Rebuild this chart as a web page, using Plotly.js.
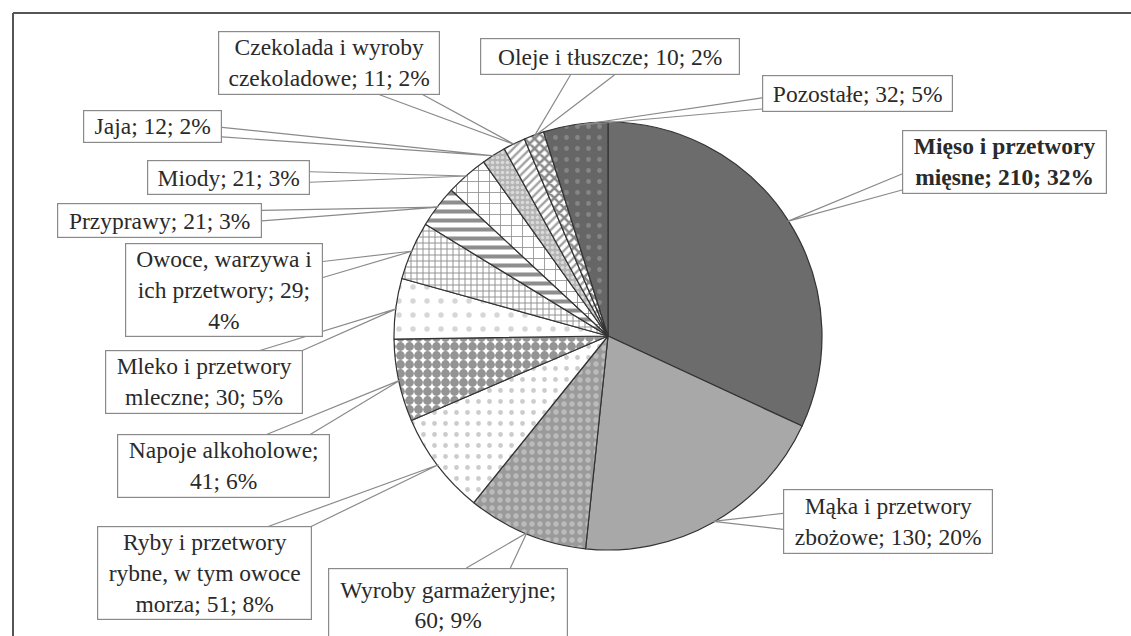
<!DOCTYPE html>
<html>
<head>
<meta charset="utf-8">
<script src="https://cdn.plot.ly/plotly-3.0.1.min.js"></script>
<style>
  html, body { margin: 0; padding: 0; background: #ffffff; overflow: hidden; }
  #chart { width: 1131px; height: 636px; }
</style>
</head>
<body>
<div id="chart"></div>
<script>
// ---- data ----
const categories = [
  'Mięso i przetwory mięsne',
  'Mąka i przetwory zbożowe',
  'Wyroby garmażeryjne',
  'Ryby i przetwory rybne, w tym owoce morza',
  'Napoje alkoholowe',
  'Mleko i przetwory mleczne',
  'Owoce, warzywa i ich przetwory',
  'Przyprawy',
  'Miody',
  'Jaja',
  'Czekolada i wyroby czekoladowe',
  'Oleje i tłuszcze',
  'Pozostałe'
];
const values = [210, 130, 60, 51, 41, 30, 29, 21, 21, 12, 11, 10, 32];
// line breaks after word n of each label text
const lineBreaks = [[3], [3], [2], [3, 7], [2], [3], [3, 6], [], [], [], [3], [], []];

// ---- styles ----
const sliceColors = ['#6c6c6c', '#a8a8a8', '#9a9a9a', '#ffffff', '#ffffff', '#ffffff', '#ffffff',
                     '#ffffff', '#ffffff', '#b4b4b4', '#ffffff', '#ffffff', '#666666'];
const patShapes = ['', '', '.', '.', '.', '.', '+', '-', '+', '.', '/', 'x', '.'];
const patFg = ['#000', '#000', '#dcdcdc', '#9a9a9a', '#2a2a2a', '#b0b0b0', '#222222',
               '#1e1e1e', '#222222', '#ffffff', '#444444', '#111111', '#a4a4a4'];
const patSize = [8, 8, 8, 11, 9, 14, 6, 9, 11, 5, 6, 7, 11];
const patSolid = [0.3, 0.3, 0.35, 0.15, 0.75, 0.12, 0.3, 0.45, 0.15, 0.4, 0.4, 0.6, 0.15];

// label boxes in pixels [x0, y0, x1, y1]
const boxes = [
  [902, 130, 1107, 193],
  [783, 489, 993, 554],
  [328, 568, 568, 642],
  [97, 528, 312, 618],
  [117, 435, 330, 497],
  [105, 352, 303, 413],
  [125, 245, 323, 335],
  [57, 203, 262, 238],
  [147, 160, 310, 195],
  [83, 110, 222, 142],
  [218, 32, 440, 94],
  [480, 38, 740, 75],
  [762, 75, 953, 112]
];

const W = 1131, H = 636;
const CX = 608, CY = 336, R = 214;
const FS = 23.5;
const px = x => x / W;
const py = y => 1 - y / H;

const total = values.reduce((a, b) => a + b, 0);

function labelText(i) {
  const pct = Math.round(values[i] / total * 100);
  const full = categories[i] + '; ' + values[i] + '; ' + pct + '%';
  const words = full.split(' ');
  let out = '';
  words.forEach((w, k) => {
    out += w;
    if (k < words.length - 1) out += lineBreaks[i].includes(k + 1) ? '<br>' : ' ';
  });
  return i === 0 ? '<b>' + out + '</b>' : out;
}

const annotations = [];
const shapes = [];
let cum = 0;
values.forEach((v, i) => {
  const a = (cum + v / 2) / total * 2 * Math.PI;
  cum += v;
  const tx = CX + (R - 1) * Math.sin(a);
  const ty = CY - (R - 1) * Math.cos(a);
  const [x0, y0, x1, y1] = boxes[i];
  const bx = (x0 + x1) / 2, by = (y0 + y1) / 2;
  const dx = tx - bx, dy = ty - by;
  const hw = (x1 - x0) / 2, hh = (y1 - y0) / 2;
  const sx = dx !== 0 ? hw / Math.abs(dx) : Infinity;
  const sy = dy !== 0 ? hh / Math.abs(dy) : Infinity;
  let b1, b2;
  if (sy < sx) {
    const ix = bx + dx * sy, iy = by + dy * sy;
    const w = Math.min(22, hw * 0.3);
    const c = Math.max(x0 + w + 4, Math.min(x1 - w - 4, ix));
    b1 = [c - w, iy]; b2 = [c + w, iy];
  } else {
    const ix = bx + dx * sx, iy = by + dy * sx;
    const w = Math.min(8, hh * 0.3);
    const c = Math.max(y0 + w + 3, Math.min(y1 - w - 3, iy));
    b1 = [ix, c - w]; b2 = [ix, c + w];
  }
  shapes.push({
    type: 'path', xref: 'paper', yref: 'paper', layer: 'above',
    path: 'M' + px(b1[0]) + ',' + py(b1[1]) + ' L' + px(tx) + ',' + py(ty) + ' L' + px(b2[0]) + ',' + py(b2[1]),
    line: { color: '#8a8a8a', width: 1.2 }
  });
  const nLines = lineBreaks[i].length + 1;
  const needH = (nLines - 1) * 1.3 * FS + 1.3 * FS;
  annotations.push({
    xref: 'paper', yref: 'paper', x: px(bx), y: py(by),
    xanchor: 'center', yanchor: 'middle',
    text: labelText(i), showarrow: false,
    width: x1 - x0 - 2, height: Math.max(y1 - y0 - 2, needH), align: 'center', valign: 'middle',
    bgcolor: '#ffffff', bordercolor: '#8a8a8a', borderwidth: 1.2, borderpad: 0,
    font: { family: 'Liberation Serif', size: FS, color: '#2a2a2a' }
  });
});

// frame of the chart area (top and left edges visible)
shapes.push({
  type: 'line', xref: 'paper', yref: 'paper', layer: 'below',
  x0: px(13), x1: 1, y0: py(13), y1: py(13),
  line: { color: '#555555', width: 2 }
});
shapes.push({
  type: 'line', xref: 'paper', yref: 'paper', layer: 'below',
  x0: px(13), x1: px(13), y0: py(13), y1: 0,
  line: { color: '#555555', width: 2 }
});

const trace = {
  type: 'pie',
  labels: categories,
  values: values,
  sort: false,
  direction: 'clockwise',
  rotation: 0,
  textinfo: 'none',
  hoverinfo: 'label+value+percent',
  domain: { x: [px(CX - R), px(CX + R)], y: [py(CY + R), py(CY - R)] },
  marker: {
    colors: sliceColors,
    line: { color: '#333333', width: 1.2 },
    pattern: {
      shape: patShapes,
      fgcolor: patFg,
      bgcolor: sliceColors,
      size: patSize,
      solidity: patSolid,
      fillmode: 'overlay'
    }
  }
};

const layout = {
  width: W, height: H,
  margin: { l: 0, r: 0, t: 0, b: 0 },
  paper_bgcolor: '#ffffff',
  showlegend: false,
  shapes: shapes,
  annotations: annotations
};

Plotly.newPlot('chart', [trace], layout, { displayModeBar: false, staticPlot: true });
</script>
</body>
</html>
